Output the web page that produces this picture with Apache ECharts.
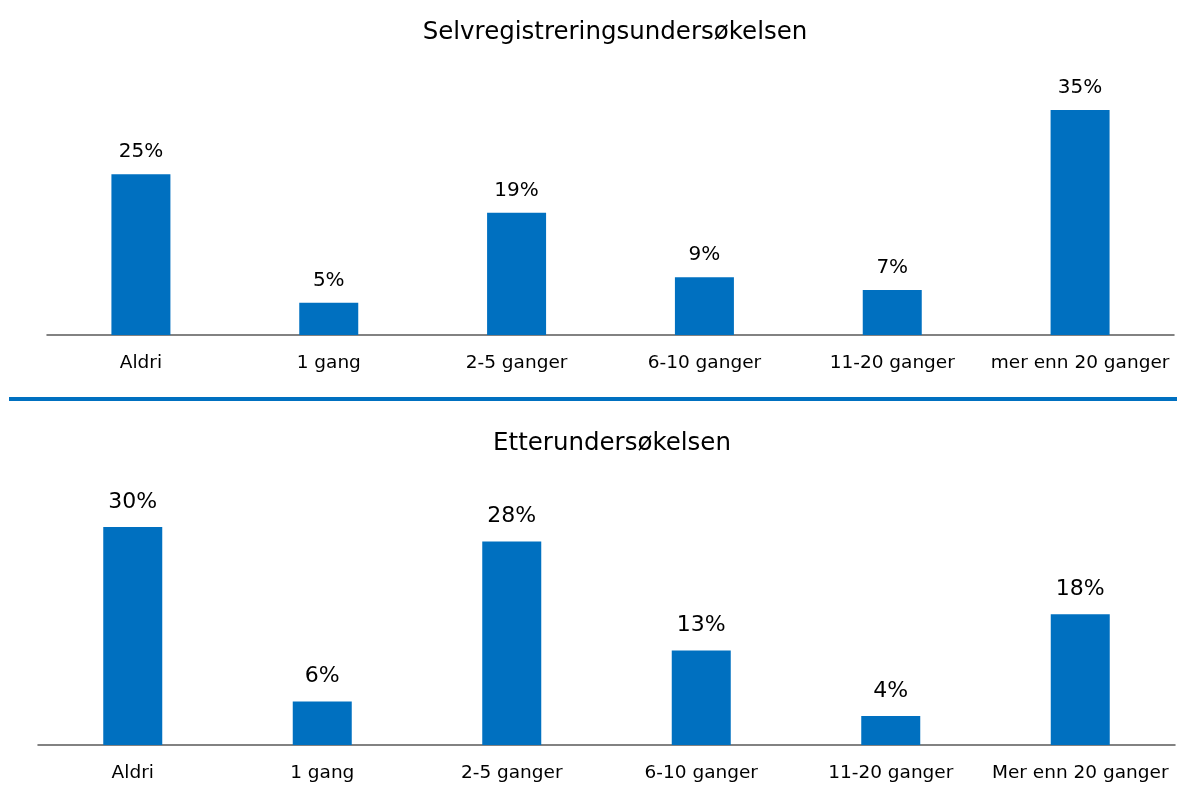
<!DOCTYPE html>
<html><head><meta charset="utf-8">
<script src="https://cdn.jsdelivr.net/npm/echarts@6/dist/echarts.min.js"></script>
<style>html,body{margin:0;padding:0;background:#fff}#c{width:1177px;height:797px}</style>
</head><body><div id="c"></div>
<script>
const topTitle = "Selvregistreringsundersøkelsen";
const bottomTitle = "Etterundersøkelsen";
const topCategories = ["Aldri","1 gang","2-5 ganger","6-10 ganger","11-20 ganger","mer enn 20 ganger"];
const bottomCategories = ["Aldri","1 gang","2-5 ganger","6-10 ganger","11-20 ganger","Mer enn 20 ganger"];
const topValues = [25,5,19,9,7,35];
const bottomValues = [30,6,28,13,4,18];

const FONT = "'DejaVu Sans', sans-serif";
const BLUE = "#0070C0";
const chart = echarts.init(document.getElementById('c'));
function xAx(idx, cats){
  return {type:'category', gridIndex:idx, data:cats,
    axisLine:{lineStyle:{color:'#595959', width:1.5}}, axisTick:{show:false},
    axisLabel:{color:'#000', fontSize:18.5, fontFamily:FONT, margin:19, interval:0}};
}
function yAx(idx, max){
  return {type:'value', gridIndex:idx, min:0, max:max, show:false, splitLine:{show:false}};
}
function ser(idx, vals, fs, dist){
  return {type:'bar', xAxisIndex:idx, yAxisIndex:idx, data:vals, barWidth:59,
    itemStyle:{color:BLUE},
    label:{show:true, position:'top', distance:dist, formatter:'{c}%', color:'#000', fontSize:fs, fontFamily:FONT}};
}
chart.setOption({
  animation:false,
  title:[
    {text:topTitle, left:610, textAlign:'center', top:15, textStyle:{fontFamily:FONT, fontSize:24.5, fontWeight:'normal', color:'#000'}},
    {text:bottomTitle, left:607, textAlign:'center', top:426, textStyle:{fontFamily:FONT, fontSize:24.5, fontWeight:'normal', color:'#000'}}
  ],
  grid:[
    {left:47, right:3, top:110, height:225},
    {left:38, right:2, top:527, height:218}
  ],
  xAxis:[xAx(0, topCategories), xAx(1, bottomCategories)],
  yAxis:[yAx(0, 35), yAx(1, 30)],
  series:[ser(0, topValues, 20, 12), ser(1, bottomValues, 22, 14)],
  graphic:[{type:'rect', shape:{x:9, y:397, width:1168, height:4}, style:{fill:BLUE}}]
});
</script></body></html>
